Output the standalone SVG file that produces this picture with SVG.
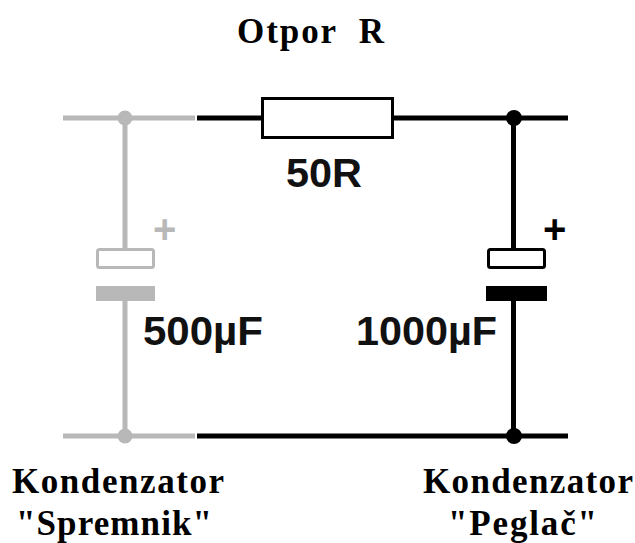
<svg xmlns="http://www.w3.org/2000/svg" width="635" height="543" viewBox="0 0 635 543">
<style>
.w{fill:none;stroke-width:5}
.k{stroke:#000}.g{stroke:#b8b8b8}
.b{fill:#fff;stroke-width:3}
.s{font-family:"Liberation Serif",serif;font-weight:bold;font-size:35px;fill:#000}
.a{font-family:"Liberation Sans",sans-serif;font-weight:bold;font-size:40px;fill:#111}
.p{font-family:"Liberation Sans",sans-serif;font-weight:bold;font-size:40px}
</style>
<rect width="635" height="543" fill="#fff"/>
<g id="connectors">
<path class="w g" d="M63 118H195M125 118V250M125 298V436M63 436H195"/>
<path class="w k" d="M197 118H262M392 118H568M513.500 118V250M513.500 298V436M197 436H568"/>
</g>
<g id="resistor"><rect class="b k" x="262.500" y="98.500" width="130" height="39"/><text class="a" x="286" y="187" textLength="76" lengthAdjust="spacingAndGlyphs">50R</text></g>
<g id="title"><text class="s" x="237" y="43" xml:space="preserve" textLength="147">Otpor  R</text></g>
<g id="cap-left">
<circle cx="125" cy="118" r="7.500" fill="#b8b8b8"/><circle cx="125" cy="436" r="7.500" fill="#b8b8b8"/>
<rect class="b g" x="97.500" y="249.500" width="56" height="18" rx="2"/>
<rect x="96" y="286" width="59" height="15" fill="#b8b8b8"/>
<text class="p" x="153" y="243" fill="#b8b8b8">+</text>
<text class="a" x="143" y="345" textLength="120" lengthAdjust="spacingAndGlyphs">500µF</text>
<text class="s" x="12" y="493" textLength="212">Kondenzator</text><text class="s" x="16" y="535" textLength="196">"Spremnik"</text>
</g>
<g id="cap-right">
<circle cx="514" cy="118" r="8" fill="#000"/><circle cx="514" cy="436" r="8" fill="#000"/>
<rect class="b k" x="488.500" y="249.500" width="56" height="18" rx="2"/>
<rect x="486" y="286" width="61" height="15" fill="#000"/>
<text class="p" x="543" y="243" fill="#000">+</text>
<text class="a" x="356" y="345" textLength="141" lengthAdjust="spacingAndGlyphs">1000µF</text>
<text class="s" x="423" y="493" textLength="210">Kondenzator</text><text class="s" x="448" y="535" textLength="149">"Peglač"</text>
</g>
</svg>
